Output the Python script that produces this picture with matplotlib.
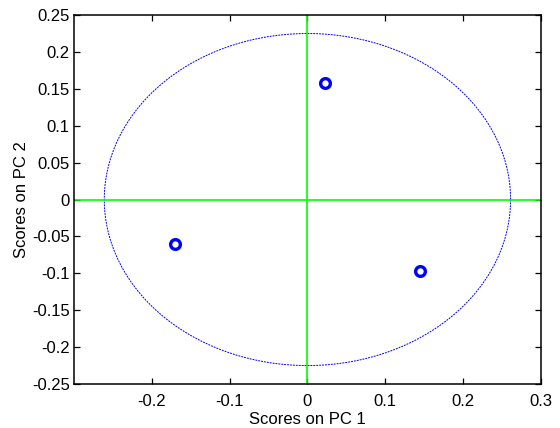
import numpy as np
import matplotlib
matplotlib.use("Agg")
import matplotlib.pyplot as plt

pc1 = [0.023, -0.170, 0.145]
pc2 = [0.158, -0.060, -0.097]
ellipse_a = 0.261
ellipse_b = 0.225
xticks = [-0.2, -0.1, 0, 0.1, 0.2, 0.3]
yticks = [-0.25, -0.2, -0.15, -0.1, -0.05, 0, 0.05, 0.1, 0.15, 0.2, 0.25]

plt.rcParams['font.family'] = ['Liberation Sans', 'DejaVu Sans']
fig = plt.figure(figsize=(5.6, 4.28), dpi=100)
ax = fig.add_axes([0.132, 0.1028, 0.834, 0.862])

t = np.linspace(0, 2 * np.pi, 400)
ax.plot(ellipse_a * np.cos(t), ellipse_b * np.sin(t), color='#0000ff', lw=0.7, ls=(0, (2, 1)))
ax.axhline(0, color='#00ff00', lw=1.2)
ax.axvline(0, color='#00ff00', lw=1.2)
ax.plot(pc1, pc2, 'o', ms=7, mfc='none', mec='#0000ff', mew=2.4)

ax.set_xlim(-0.3, 0.3)
ax.set_ylim(-0.25, 0.25)
ax.set_xticks(xticks)
ax.set_xticklabels(['-0.2', '-0.1', '0', '0.1', '0.2', '0.3'])
ax.set_yticks(yticks)
ax.set_yticklabels(['-0.25', '-0.2', '-0.15', '-0.1', '-0.05', '0', '0.05', '0.1', '0.15', '0.2', '0.25'])
ax.tick_params(direction='in', top=True, right=True, labelsize=12, length=4, width=0.9, pad=3)
ax.tick_params(axis='x', pad=7)
for s in ax.spines.values():
    s.set_linewidth(1.1)
ax.set_xlabel('Scores on PC 1', fontsize=12, labelpad=2)
ax.set_ylabel('Scores on PC 2', fontsize=12, labelpad=2)

fig.savefig('out.png', dpi=100)
